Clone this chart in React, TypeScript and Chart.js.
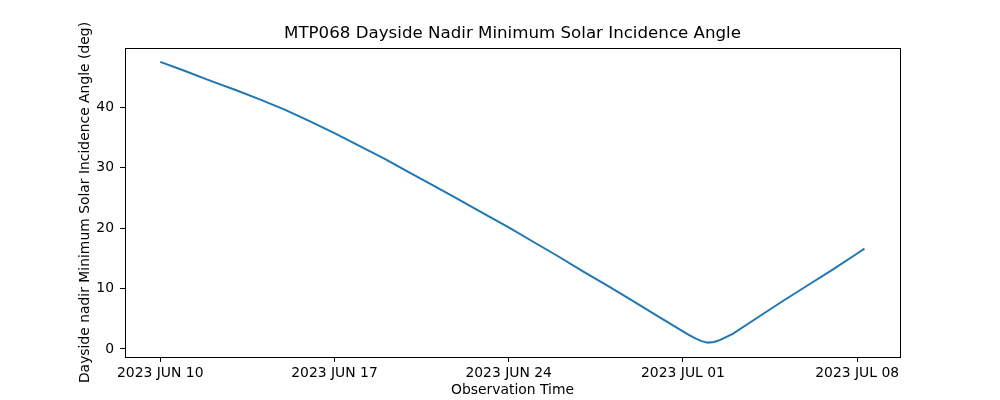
import React, { useEffect, useRef } from "react";
import { Chart, registerables } from "chart.js";

Chart.register(...registerables);

// Observation times (UTC) and minimum solar incidence angle (deg)
const obsTimes: string[] = [
  "2023-06-10T00:00", "2023-06-11T00:00", "2023-06-12T00:00", "2023-06-13T00:00",
  "2023-06-14T00:00", "2023-06-15T00:00", "2023-06-16T00:00", "2023-06-17T00:00",
  "2023-06-18T00:00", "2023-06-19T00:00", "2023-06-20T00:00", "2023-06-21T00:00",
  "2023-06-22T00:00", "2023-06-23T00:00", "2023-06-24T00:00", "2023-06-25T00:00",
  "2023-06-26T00:00", "2023-06-27T00:00", "2023-06-28T00:00", "2023-06-29T00:00",
  "2023-06-30T00:00", "2023-07-01T00:00", "2023-07-01T06:00", "2023-07-01T12:00",
  "2023-07-01T18:00", "2023-07-02T00:00", "2023-07-02T06:00", "2023-07-02T12:00",
  "2023-07-02T18:00", "2023-07-03T00:00", "2023-07-04T00:00", "2023-07-05T00:00",
  "2023-07-06T00:00", "2023-07-07T00:00", "2023-07-08T00:00", "2023-07-08T07:00",
];
const incidenceAngles: number[] = [
  47.5, 46.0, 44.4, 42.9,
  41.3, 39.6, 37.7, 35.7,
  33.6, 31.5, 29.2, 27.0,
  24.7, 22.4, 20.1, 17.7,
  15.3, 12.8, 10.4, 7.9,
  5.4, 2.9, 2.3, 1.75,
  1.3, 1.05, 1.15, 1.5,
  2.0, 2.5, 5.2, 7.9,
  10.5, 13.1, 15.8, 16.6,
];

const startTime = "2023-06-10T00:00";
const xTickValues: number[] = [0, 7, 14, 21, 28];
const xTickLabels: string[] = ["2023 JUN 10", "2023 JUN 17", "2023 JUN 24", "2023 JUL 01", "2023 JUL 08"];
const yTickValues: number[] = [0, 10, 20, 30, 40];

const titleText = "MTP068 Dayside Nadir Minimum Solar Incidence Angle";
const xTitle = "Observation Time";
const yTitle = "Dayside nadir Minimum Solar Incidence Angle (deg)";

const FONT = "'DejaVu Sans', sans-serif";

export default function App() {
  const ref = useRef<HTMLCanvasElement | null>(null);

  useEffect(() => {
    document.body.style.margin = "0";
    if (!ref.current) return;
    const t0 = Date.parse(startTime + "Z");
    const points = obsTimes.map((t, i) => ({
      x: (Date.parse(t + "Z") - t0) / 86400000,
      y: incidenceAngles[i],
    }));

    const framePlugin = {
      id: "frame",
      afterDraw(chart: any) {
        const { ctx, chartArea } = chart;
        ctx.save();
        ctx.strokeStyle = "#000";
        ctx.lineWidth = 1;
        ctx.strokeRect(
          Math.round(chartArea.left) + 0.5,
          Math.round(chartArea.top) + 0.5,
          Math.round(chartArea.right - chartArea.left),
          Math.round(chartArea.bottom - chartArea.top)
        );
        ctx.restore();
      },
    };

    const chart = new Chart(ref.current, {
      type: "line",
      data: {
        datasets: [
          {
            data: points,
            borderColor: "#1f77b4",
            borderWidth: 2,
            pointRadius: 0,
            tension: 0,
            fill: false,
          },
        ],
      },
      options: {
        animation: false,
        responsive: false,
        devicePixelRatio: 1,
        layout: { padding: { left: 0, right: 100, top: 0, bottom: 0 } },
        plugins: {
          legend: { display: false },
          tooltip: { enabled: false },
          title: {
            display: true,
            text: titleText,
            color: "#000",
            fullSize: false,
            font: { family: FONT, size: 16.67, weight: "normal", lineHeight: 1.2 },
            padding: { top: 24, bottom: 4 },
          },
        },
        scales: {
          x: {
            type: "linear",
            min: -1.415,
            max: 29.72,
            afterBuildTicks: (scale: any) => {
              scale.ticks = xTickValues.map((v) => ({ value: v }));
            },
            afterFit: (scale: any) => {
              scale.height = 43;
            },
            ticks: {
              color: "#000",
              font: { family: FONT, size: 13.9 },
              padding: 3,
              maxRotation: 0,
              autoSkip: false,
              callback: (v: any) => {
                const i = xTickValues.indexOf(Number(v));
                return i >= 0 ? xTickLabels[i] : "";
              },
            },
            grid: { drawOnChartArea: false, drawTicks: true, tickLength: 5, color: "#000" },
            border: { display: true, color: "#000" },
            title: {
              display: true,
              text: xTitle,
              color: "#000",
              font: { family: FONT, size: 13.9, lineHeight: 1.2 },
              padding: { top: 0, bottom: 1 },
            },
          },
          y: {
            type: "linear",
            min: -1.33,
            max: 49.8,
            afterBuildTicks: (scale: any) => {
              scale.ticks = yTickValues.map((v) => ({ value: v }));
            },
            afterFit: (scale: any) => {
              scale.width = 125;
            },
            ticks: {
              color: "#000",
              font: { family: FONT, size: 13.9 },
              padding: 6,
              callback: (v: any) => String(v),
            },
            grid: { drawOnChartArea: false, drawTicks: true, tickLength: 5, color: "#000" },
            border: { display: true, color: "#000" },
            title: {
              display: true,
              text: yTitle,
              color: "#000",
              font: { family: FONT, size: 13.9, lineHeight: 1.2 },
              padding: { top: 77, bottom: 0 },
            },
          },
        },
      },
      plugins: [framePlugin],
    } as any);

    return () => chart.destroy();
  }, []);

  return (
    <div style={{ width: 1000, height: 400, background: "#fff" }}>
      <canvas ref={ref} width={1000} height={400} style={{ display: "block" }} />
    </div>
  );
}
